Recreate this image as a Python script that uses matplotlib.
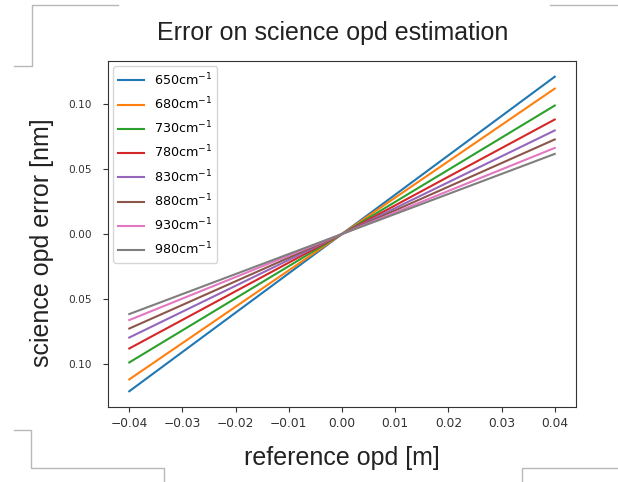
import numpy as np
import matplotlib
matplotlib.use('Agg')
from matplotlib import pyplot as plt
from matplotlib.lines import Line2D

# wavenumbers and error at the edges of the opd range
wavenumbers = [650, 680, 730, 780, 830, 880, 930, 980]
err_at_max = [0.1206, 0.1115, 0.0985, 0.0878, 0.0794, 0.0725, 0.0660, 0.0614]
opd_ends = [-0.04, 0.04]

yticks = [-0.10, -0.05, 0.00, 0.05, 0.10]
ytick_labels = ['0.10', '0.05', '0.00', '0.05', '0.10']
xticks = [-0.04, -0.03, -0.02, -0.01, 0.00, 0.01, 0.02, 0.03, 0.04]

W, H = 618, 482
fig = plt.figure(figsize=(W / 100, H / 100), dpi=100)
ax = fig.add_axes([108 / W, 1 - 407 / H, (576 - 108) / W, (407 - 61) / H])

x = np.array(opd_ends)
for wn, e in zip(wavenumbers, err_at_max):
    ax.plot(x, e / opd_ends[1] * x, lw=1.5, label=f'{wn}cm$^{{-1}}$')

ax.set_xticks(xticks)
ax.set_yticks(yticks)
ax.set_yticklabels(ytick_labels)
ax.tick_params(axis='x', labelsize=8.8, colors='#333333', labelcolor='#333333')
ax.tick_params(axis='y', labelsize=7.6, pad=8, colors='#333333', labelcolor='#333333')
for s in ax.spines.values():
    s.set_color('#333333')

ax.legend(loc='upper left', fontsize=9.2, borderaxespad=0.4, labelspacing=0.6)

big = dict(family='Liberation Sans', fontsize=18, color='#222222')
fig.text(333 / W, 1 - 33 / H, 'Error on science opd estimation', ha='center', va='center', **big)
fig.text(342 / W, 1 - 458 / H, 'reference opd [m]', ha='center', va='center', **big)
fig.text(42 / W, 1 - 243 / H, 'science opd error [nm]', ha='center', va='center', rotation=90, **big)

# screenshot frame corners
frame = [
    [(14, 66), (32, 66), (32, 5), (118, 5)],
    [(550, 5), (618, 5)],
    [(14, 430), (31, 430), (31, 468), (164, 468), (164, 482)],
    [(522, 482), (522, 468), (618, 468)],
]
for pts in frame:
    px = [p[0] / W for p in pts]
    py = [1 - p[1] / H for p in pts]
    fig.add_artist(Line2D(px, py, color='#b8b8b8', lw=1))

fig.savefig('out.png', dpi=100)
